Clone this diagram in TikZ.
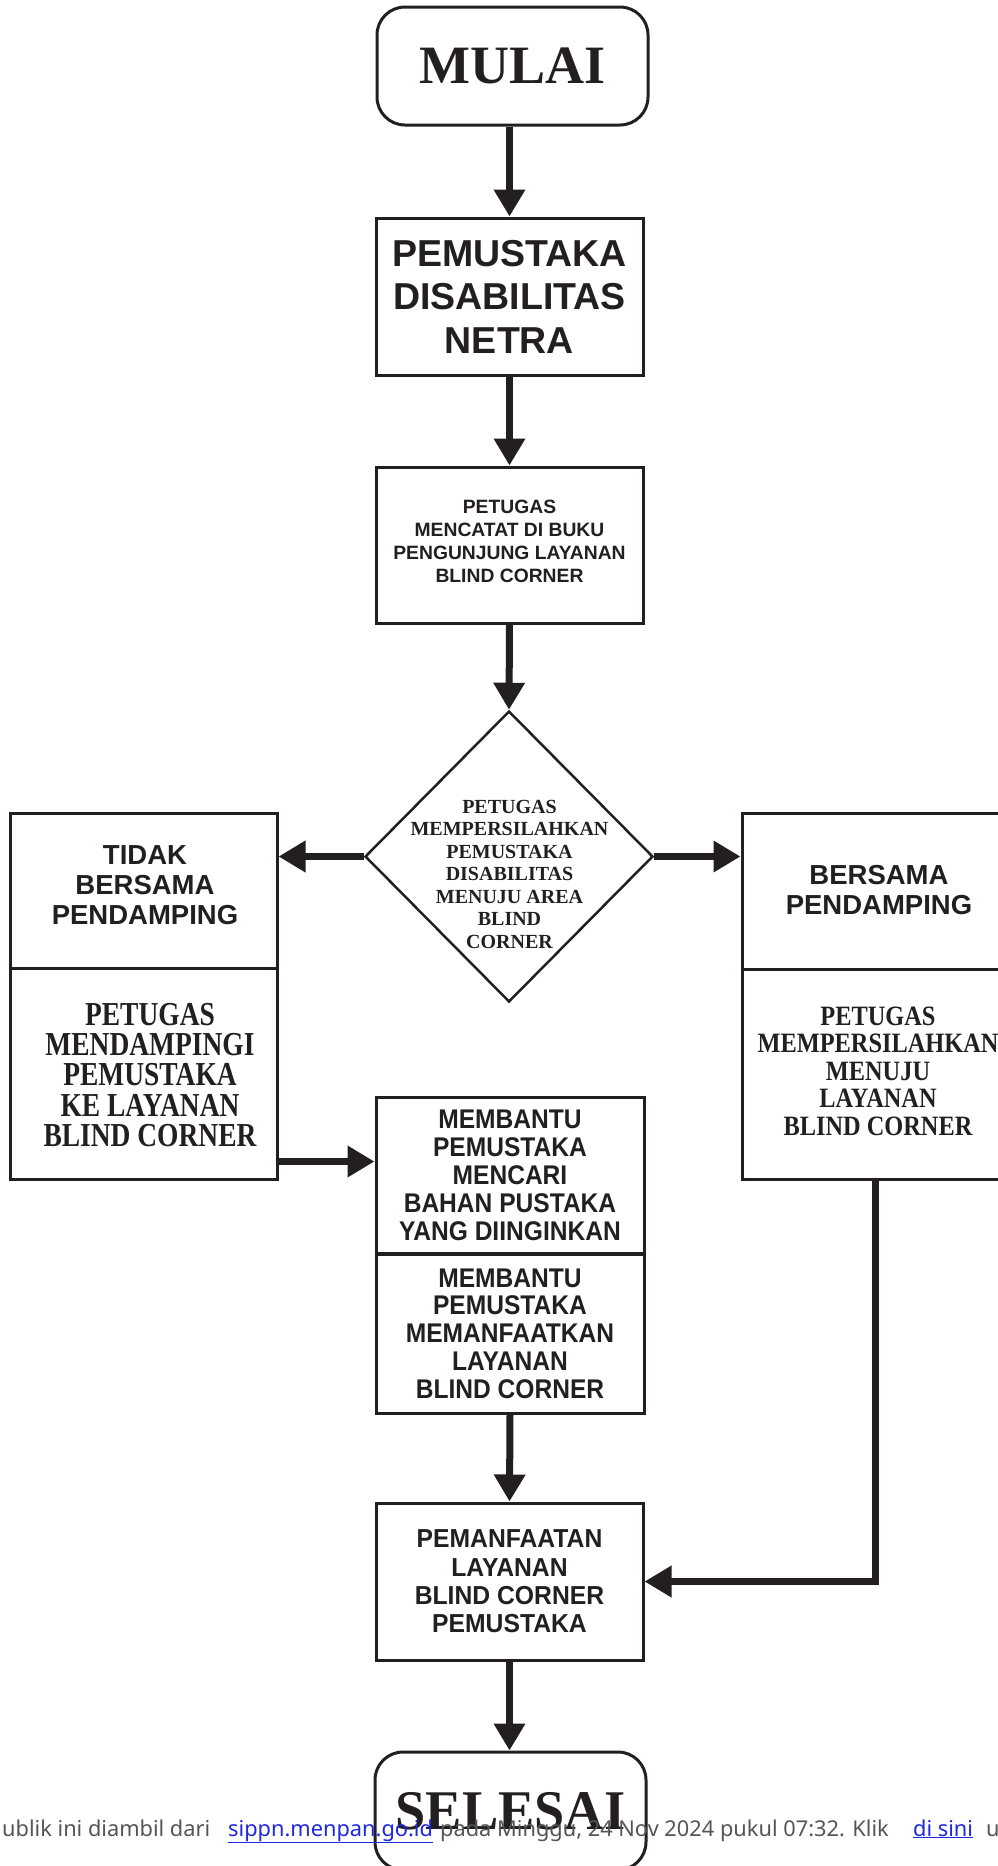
\documentclass[tikz,border=0pt]{standalone}
\usepackage{fontspec}
\usetikzlibrary{arrows.meta,shapes.geometric}
\newfontfamily\fsans{Liberation Sans}
\newfontfamily\fsansc[FakeStretch=0.91]{Liberation Sans}
\newfontfamily\fsanscc[FakeStretch=0.95]{Liberation Sans}
\newfontfamily\fserif{Liberation Serif}
\newfontfamily\fserifs[FakeStretch=0.97]{Liberation Serif}
\newfontfamily\fserifl[FakeStretch=0.82]{Liberation Serif}
\newfontfamily\fserifr[FakeStretch=0.87]{Liberation Serif}
\newfontfamily\ffoot{Noto Sans}
\definecolor{ink}{RGB}{35,31,32}
\definecolor{footgray}{RGB}{85,85,85}
\definecolor{linkblue}{RGB}{30,40,225}
\begin{document}
\begin{tikzpicture}[x=1pt,y=-1pt,
  box/.style={draw=ink, line width=3pt, rectangle, inner sep=0pt, align=center, text=ink},
  term/.style={box, rounded corners=28pt},
  lbl/.style={inner sep=0pt, align=center, text=ink},
  arr/.style={draw=ink, line width=7pt, -{Triangle[length=27pt,width=30pt]}},
  foot/.style={anchor=base west, inner sep=0pt, font=\ffoot\fontsize{21.8}{26}\selectfont}]
\useasboundingbox (0,0) rectangle (998,1866);
\clip (0,0) rectangle (998,1866);
\fill[white] (0,0) rectangle (998,1866);

% start / end terminals
\node[term, minimum width=271pt, minimum height=118pt,
  font=\fserif\bfseries\fontsize{54}{62}\selectfont] (mulai) at (512.5,66) {MULAI};
\node[term, minimum width=271pt, minimum height=118pt,
  font=\fserifs\bfseries\fontsize{56}{64}\selectfont] (selesai) at (510.5,1811) {SELESAI};

% main column
\node[box, minimum width=267pt, minimum height=157pt,
  font=\fsans\bfseries\fontsize{37.5}{43.5}\selectfont] (pem) at (509.5,296.5)
  {PEMUSTAKA\\DISABILITAS\\NETRA};
\node[box, minimum width=267pt, minimum height=156pt] (ptg) at (509.5,545) {};
\node[lbl, font=\fsans\bfseries\fontsize{19.3}{23}\selectfont] (ptgt) at (509.5,541.5)
  {PETUGAS\\MENCATAT DI BUKU\\PENGUNJUNG LAYANAN\\BLIND CORNER};

\node[draw=ink, line width=2.5pt, diamond, minimum width=288pt, minimum height=291pt,
  inner sep=0pt] (dia) at (509,856.5) {};
\node[lbl, font=\fserif\bfseries\fontsize{20}{22.5}\selectfont] (diat) at (509.5,874)
  {PETUGAS\\MEMPERSILAHKAN\\PEMUSTAKA\\DISABILITAS\\MENUJU AREA\\BLIND\\CORNER};

% left branch
\node[box, minimum width=267pt, minimum height=155pt] (ltop) at (143.5,890.5) {};
\node[lbl, font=\fsans\bfseries\fontsize{27.5}{30.3}\selectfont] (ltopt) at (145,885)
  {TIDAK\\BERSAMA\\PENDAMPING};
\node[box, minimum width=267pt, minimum height=211pt] (lbot) at (143.5,1073.5) {};
\node[lbl, font=\fserifl\bfseries\fontsize{33.5}{30.2}\selectfont] (lbott) at (150,1075)
  {PETUGAS\\MENDAMPINGI\\PEMUSTAKA\\KE LAYANAN\\BLIND CORNER};

% right branch
\node[box, minimum width=272pt, minimum height=156pt] (rtop) at (878,891) {};
\node[lbl, font=\fsans\bfseries\fontsize{27.5}{29.5}\selectfont] (rtopt) at (879,890)
  {BERSAMA\\PENDAMPING};
\node[box, minimum width=272pt, minimum height=210pt] (rbot) at (878,1074) {};
\node[lbl, font=\fserifr\bfseries\fontsize{28}{27.5}\selectfont] (rbott) at (878,1071)
  {PETUGAS\\MEMPERSILAHKAN\\MENUJU\\LAYANAN\\BLIND CORNER};

% help boxes
\node[box, minimum width=268pt, minimum height=156pt,
  font=\fsansc\bfseries\fontsize{27}{28}\selectfont] (mb1) at (510,1175)
  {MEMBANTU\\PEMUSTAKA\\MENCARI\\BAHAN PUSTAKA\\YANG DIINGINKAN};
\node[box, minimum width=268pt, minimum height=159pt,
  font=\fsansc\bfseries\fontsize{27}{27.8}\selectfont] (mb2) at (510,1333.5)
  {MEMBANTU\\PEMUSTAKA\\MEMANFAATKAN\\LAYANAN\\BLIND CORNER};

\node[box, minimum width=267pt, minimum height=157pt,
  font=\fsanscc\bfseries\fontsize{26}{28.3}\selectfont] (pm) at (509.5,1581.5)
  {PEMANFAATAN\\LAYANAN\\BLIND CORNER\\PEMUSTAKA};

% connectors
\draw[arr] (pem.north |- mulai.south) -- (pem.north);
\draw[arr] (pem.south) -- (ptg.north);
\draw[arr] (ptg.south) -- (dia.north);
\draw[arr] (dia.west) -- (dia.west -| ltop.east);
\draw[arr] (dia.east) -- (dia.east -| rtop.west);
\coordinate (la) at ([yshift=19pt]lbot.south east);
\draw[arr] (la) -- (la -| mb1.west);
\draw[arr] (mb2.south) -- (pm.north);
\draw[arr] (pm.south) -- (pm.south |- selesai.north);
\coordinate (ra) at ([xshift=-3pt]rbot.south);
\draw[arr] (ra) |- (pm.east);

% footer overlay text
\node[foot, text=footgray] (f1) at (2,1836) {ublik ini diambil dari};
\node[foot, text=linkblue] (f2) at (228,1836) {\underline{sippn.menpan.go.id}};
\node[foot, text=footgray] (f3) at (440,1836) {pada Minggu, 24 Nov 2024 pukul 07:32. Klik};
\node[foot, text=linkblue] (f4) at (913,1836) {\underline{di sini}};
\node[foot, text=footgray] (f5) at (986,1836) {u};
\end{tikzpicture}
\end{document}
